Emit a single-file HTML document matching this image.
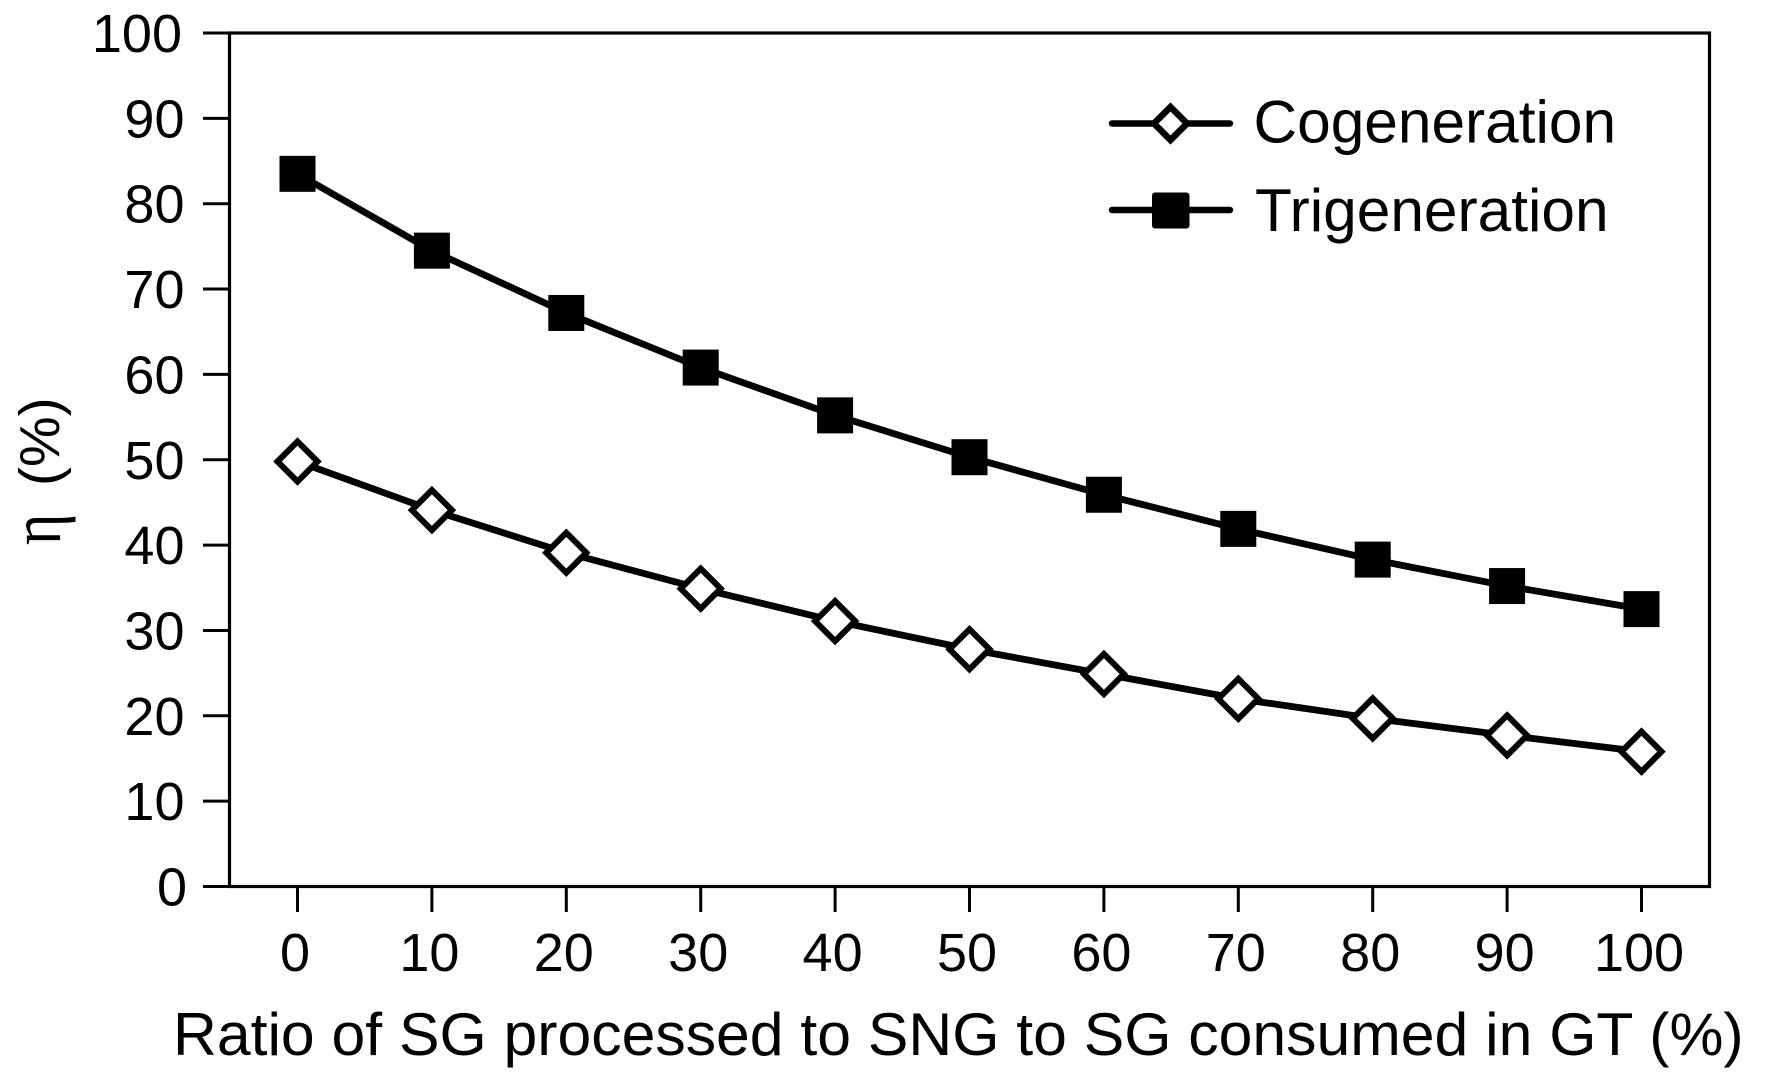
<!DOCTYPE html>
<html lang="en">
<head>
<meta charset="utf-8">
<title>Efficiency vs SG ratio</title>
<style>
html,body{margin:0;padding:0;background:#fff;}
svg{display:block;}
text{font-family:"Liberation Sans",sans-serif;fill:#000;}
</style>
</head>
<body>
<svg id="chart" xmlns="http://www.w3.org/2000/svg" width="1768" height="1087" viewBox="0 0 1768 1087"></svg>
<script>
const categories = [0, 10, 20, 30, 40, 50, 60, 70, 80, 90, 100];
const cogeneration = [49.8, 44.1, 39.1, 34.9, 31.1, 27.8, 24.9, 22.0, 19.7, 17.7, 15.8];
const trigeneration = [83.5, 74.5, 67.2, 60.8, 55.2, 50.3, 45.9, 41.9, 38.3, 35.2, 32.5];
const yTickLabels = [0, 10, 20, 30, 40, 50, 60, 70, 80, 90, 100];
const xTickLabels = ['0', '10', '20', '30', '40', '50', '60', '70', '80', '90', '100'];

const NS = 'http://www.w3.org/2000/svg';
const svg = document.getElementById('chart');
const L = 229.5, R = 1709.5, T = 33, B = 886.5;
const X0 = 297.5, XSTEP = 134.4;
function xScale(v) { return X0 + (v / 10) * XSTEP; }
function yScale(v) { return B - (v / 100) * (B - T); }
function make(tag, attrs, parent) {
  const n = document.createElementNS(NS, tag);
  for (const k in attrs) n.setAttribute(k, attrs[k]);
  (parent || svg).appendChild(n);
  return n;
}
function diamondPoints(cx, cy, r) {
  return (cx) + ',' + (cy - r) + ' ' + (cx + r) + ',' + cy + ' ' + cx + ',' + (cy + r) + ' ' + (cx - r) + ',' + cy;
}

// plot frame
const frame = make('rect', { x: L, y: T, width: R - L, height: B - T, fill: 'none', stroke: '#000', 'stroke-width': 3.2 });



// y axis ticks and labels
yTickLabels.forEach(function (v) {
  const t = make('line', { x1: 203, x2: L, y1: yScale(v), y2: yScale(v), stroke: '#000', 'stroke-width': 3 });
  
  
  const lab = make('text', { x: 182 + (3 - String(v).length) * 2.5, y: yScale(v) + 19, 'text-anchor': 'end', 'font-size': 54 });
  lab.textContent = v;
  
  
});

// x axis ticks and labels
categories.forEach(function (c, i) {
  const t = make('line', { x1: xScale(c), x2: xScale(c), y1: B, y2: 912, stroke: '#000', 'stroke-width': 3 });
  
  
  const lab = make('text', { x: xScale(c) - 2.5, y: 971, 'text-anchor': 'middle', 'font-size': 54 });
  lab.textContent = xTickLabels[i];
  
  
});

// series lines
function linePoints(vals) {
  return vals.map(function (v, i) { return xScale(categories[i]) + ',' + yScale(v); }).join(' ');
}
const cogenLine = make('polyline', { points: linePoints(cogeneration), fill: 'none', stroke: '#000', 'stroke-width': 6.8 });


const trigenLine = make('polyline', { points: linePoints(trigeneration), fill: 'none', stroke: '#000', 'stroke-width': 6.8 });



// series markers
cogeneration.forEach(function (v, i) {
  const m = make('polygon', { points: diamondPoints(xScale(categories[i]), yScale(v), 20), fill: '#fff', stroke: '#000', 'stroke-width': 6 });
  
  
});
trigeneration.forEach(function (v, i) {
  const m = make('rect', { x: xScale(categories[i]) - 18, y: yScale(v) - 18, width: 36, height: 36, fill: '#000' });
  
  
});

// legend
const legendLine1 = make('line', { x1: 1112, x2: 1230, y1: 123.5, y2: 123.5, stroke: '#000', 'stroke-width': 6.5, 'stroke-linecap': 'round' });


const legendMark1 = make('polygon', { points: diamondPoints(1170.5, 123.5, 16.5), fill: '#fff', stroke: '#000', 'stroke-width': 6.5 });


const legendText1 = make('text', { x: 1253.5, y: 142.5, 'font-size': 60.4 });
legendText1.textContent = 'Cogeneration';


const legendLine2 = make('line', { x1: 1112, x2: 1230, y1: 210, y2: 210, stroke: '#000', 'stroke-width': 6.5, 'stroke-linecap': 'round' });


const legendMark2 = make('rect', { x: 1152, y: 192.5, width: 37.5, height: 36, rx: 3, fill: '#000' });


const legendText2 = make('text', { x: 1255, y: 231, 'font-size': 60.4 });
legendText2.textContent = 'Trigeneration';



// axis titles
const xTitle = make('text', { x: 173, y: 1055, 'font-size': 60.7 });
xTitle.textContent = 'Ratio of SG processed to SNG to SG consumed in GT (%)';


const yTitleUnit = make('text', { transform: 'translate(59 486) rotate(-90)', 'font-size': 57 });
yTitleUnit.textContent = '(%)';


const yTitleEta = make('text', { transform: 'translate(60 545) rotate(-90) scale(1 1.2)', 'font-size': 60 });
yTitleEta.style.fontFamily = '"Liberation Serif", serif';
yTitleEta.textContent = 'η';


</script>
</body>
</html>
